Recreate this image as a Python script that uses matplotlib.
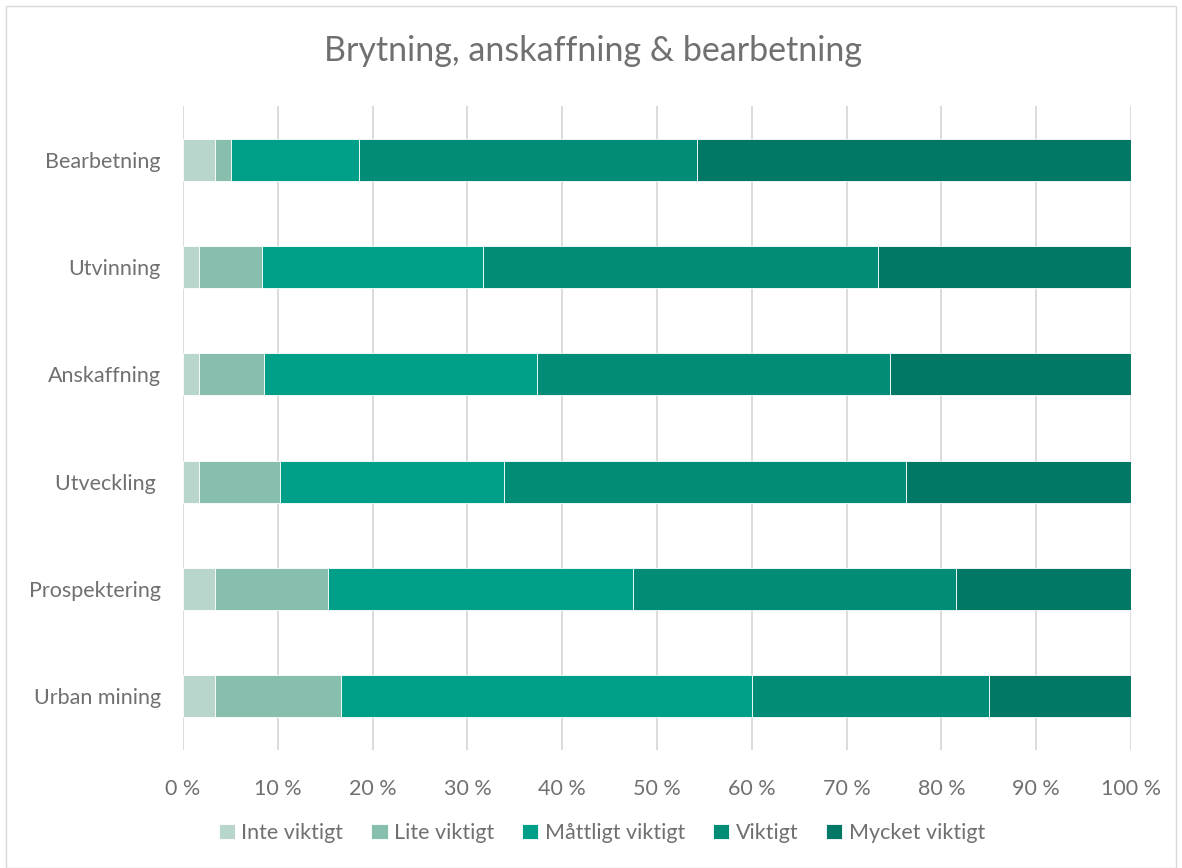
import matplotlib
matplotlib.use("Agg")
import matplotlib.pyplot as plt
from matplotlib.patches import Rectangle
from matplotlib.ticker import FuncFormatter
import numpy as np

plt.rcParams['font.family'] = ['Lato', 'DejaVu Sans']

categories = ["Urban mining", "Prospektering", "Utveckling ", "Anskaffning", "Utvinning", "Bearbetning"]
series = ["Inte viktigt", "Lite viktigt", "Måttligt viktigt", "Viktigt", "Mycket viktigt"]
inte = [3.4, 3.4, 1.7, 1.7, 1.7, 3.4]
lite = [13.3, 11.9, 8.5, 6.8, 6.6, 1.7]
mattligt = [43.3, 32.2, 23.7, 28.8, 23.3, 13.5]
viktigt = [25.0, 34.0, 42.4, 37.3, 41.7, 35.6]
mycket = [15.0, 18.5, 23.7, 25.4, 26.7, 45.8]
colors = ["#B9D6CC", "#88BEAD", "#00A088", "#008C77", "#007865"]

text_col = "#707070"
my_dpi = 100
fig = plt.figure(figsize=(1182 / my_dpi, 868 / my_dpi), dpi=my_dpi)
fig.patches.append(Rectangle((6 / 1182, 0), 1 - 12 / 1182, 1 - 6 / 868, transform=fig.transFigure,
                             fill=False, edgecolor="#D9D9D9", linewidth=1))

ax = fig.add_axes([183 / 1182, 1 - 750 / 868, (1131 - 183) / 1182, (750 - 106) / 868])

y = np.arange(len(categories))
left = np.zeros(len(categories))
for name, vals, col in zip(series, [inte, lite, mattligt, viktigt, mycket], colors):
    vals = np.array(vals)
    ax.barh(y, vals, left=left, height=0.39, color=col, edgecolor="white", linewidth=0.6,
            label=name, zorder=3)
    left += vals

ax.set_xlim(0, 100)
ax.set_ylim(-0.5, len(categories) - 0.5)
ax.set_xticks(np.arange(0, 101, 10))
ax.xaxis.set_major_formatter(FuncFormatter(lambda v, p: f"{int(v)} %"))
ax.set_yticks(y)
ax.set_yticklabels(categories)
ax.grid(axis="x", color="#D9D9D9", linewidth=1.3, zorder=0)
for s in ax.spines.values():
    s.set_visible(False)
ax.tick_params(axis="both", length=0, labelsize=15.5, colors=text_col)
ax.tick_params(axis="x", pad=21)
ax.tick_params(axis="y", pad=16)

fig.text(0.5 + 2 / 1182, 1 - 51 / 868, "Brytning, anskaffning & bearbetning", ha="center", va="center",
         fontsize=24.5, color=text_col)

fig.legend(loc="center", bbox_to_anchor=(0.5 + 11 / 1182, 1 - 833 / 868), ncol=5, frameon=False,
           fontsize=15.5, labelcolor=text_col, handlelength=0.75, handleheight=0.75,
           handletextpad=0.3, columnspacing=1.3)

fig.savefig("out.png", dpi=my_dpi)
plt.close(fig)
